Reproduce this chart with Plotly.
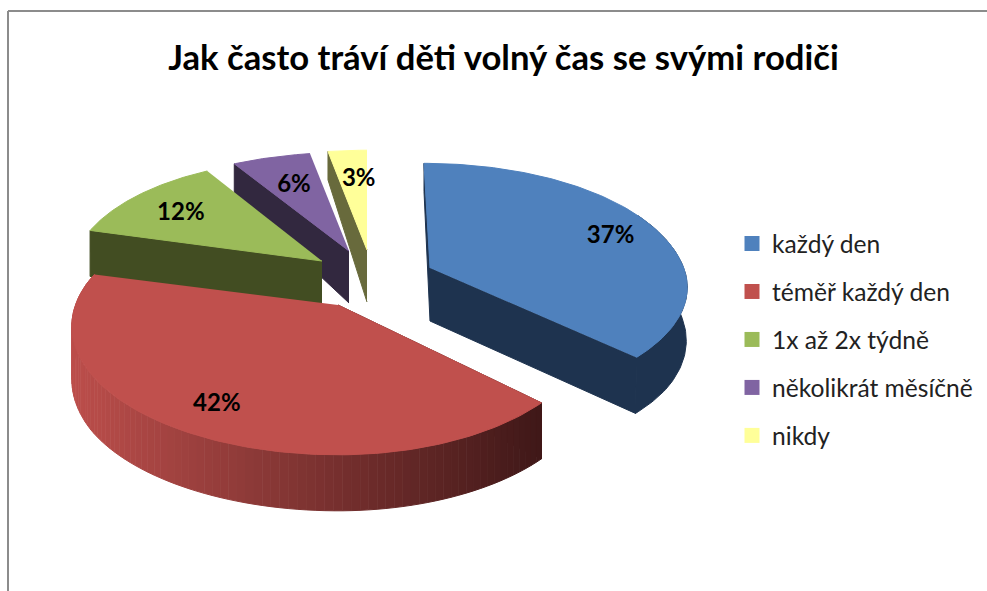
import numpy as np
import plotly.graph_objects as go

# --- data ---
categories = ["každý den", "téměř každý den", "1x až 2x týdně", "několikrát měsíčně", "nikdy"]
shares = [37, 42, 12, 6, 3]
title = "Jak často tráví děti volný čas se svými rodiči"

# --- style / projection ---
top_colors = ["#4F81BD", "#C0504D", "#9BBB59", "#8064A2", "#FFFF99"]
wall_colors = ["#1E334F", "#4A1E1C", "#424D22", "#32283F", "#686A3C"]
centers = [(430, 268), (338, 305), (322, 261), (349, 251), (367, 250)]
center_depth = [53, 55, 43, 52, 52]
label_frac = [0.85, 0.82, 0.77, 0.71, 0.68]
label_dx = [-2, -2, -1, 0, 5]
label_dy = [9, -6, 4, 1, -2]
left_rx = [1, 1.05, 1, 1, 1]
right_rx = [1.015, 1, 1, 1, 1]
front_ry = [0.9, 0.985, 1, 1, 1]
back_ry = [0.03, 0.05, 0.05, 0.086, 0.075]
back_shear = [6, 0, 0, 0, 0]
rim_dx = [-1, 0, 0, 0, 0]
RX, RY, K = 250.0, 130.0, 0.17
FONT = "Lato"


def project(i, theta):
    c = centers[i]
    u, v = np.sin(theta), -np.cos(theta)
    s = 1 + K * v
    x = c[0] + RX * u * s * np.where(u < 0, left_rx[i], right_rx[i]) + back_shear[i] * np.minimum(v, 0)
    y = c[1] + RY * v * s * np.where(v > 0, front_ry[i], 1 + back_ry[i] * v)
    return x, y, v


def depth(v):
    return np.where(v < 0, 52 + 24 * v, 52 + 4 * np.minimum(v / 0.5, 1))


def poly(fig, xs, ys, color):
    fig.add_trace(go.Scatter(x=list(xs), y=list(ys), mode="lines", fill="toself", fillcolor=color,
                             line=dict(color=color, width=1), hoverinfo="skip", showlegend=False))


fig = go.Figure()
edges = np.radians(np.cumsum([0] + shares) / sum(shares) * 360)

# paint from the back slices to the front ones
for i in [4, 3, 2, 0, 1]:
    c, a0, a1 = centers[i], edges[i], edges[i + 1]
    t = np.linspace(a0, a1, 120)
    x, y, v = project(i, t)
    d = depth(v)
    cb = c[1] + center_depth[i]

    # cut wall at the start of the slice
    poly(fig, [c[0], x[0], x[0], c[0]], [c[1], y[0], y[0] + d[0], cb], wall_colors[i])

    if i == 0:
        # cut wall at the end of the slice and the outer rim
        dx = rim_dx[i]
        poly(fig, [c[0], x[-1], x[-1] + dx, c[0]], [c[1], y[-1], y[-1] + d[-1], cb], wall_colors[i])
        mask = v > -0.45
        poly(fig, np.r_[x[mask], x[mask][::-1] + dx], np.r_[y[mask], (y + d)[mask][::-1]], wall_colors[i])
    elif i == 1:
        # outer rim, shaded from the left towards the right
        tt = np.linspace(a1, a0, 90)
        xx, yy, vv = project(i, tt)
        dd = depth(vv)
        f = np.clip((xx - xx.min()) / (xx.max() - xx.min()), 0, 1)
        for j in range(len(tt) - 1):
            col = "rgb(%d,%d,%d)" % (188 - 125 * f[j], 78 - 54 * f[j], 75 - 51 * f[j])
            poly(fig, [xx[j], xx[j + 1], xx[j + 1], xx[j]],
                 [yy[j], yy[j + 1], yy[j + 1] + dd[j + 1], yy[j] + dd[j]], col)

    poly(fig, np.r_[c[0], x], np.r_[c[1], y], top_colors[i])

# percentage labels
mids = (edges[:-1] + edges[1:]) / 2
for i, share in enumerate(shares):
    lx, ly, lv = project(i, mids[i])
    fig.add_trace(go.Scatter(
        x=[centers[i][0] + (lx - centers[i][0]) * label_frac[i] + label_dx[i]],
        y=[centers[i][1] + (ly - centers[i][1]) * label_frac[i] + label_dy[i]],
        mode="text", text=[f"{share}%"], textposition="middle center",
        textfont=dict(family=FONT, size=24, color="#000000", weight="bold"),
        hoverinfo="skip", showlegend=False))

# legend
for i, name in enumerate(categories):
    fig.add_trace(go.Scatter(x=[None], y=[None], mode="markers", name=name, legendgroup=name,
                             marker=dict(symbol="square", size=15, color=top_colors[i])))

fig.update_layout(
    width=987, height=591, margin=dict(l=0, r=0, t=0, b=0),
    paper_bgcolor="white", plot_bgcolor="white",
    title=dict(text=title, x=503.5 / 987, xanchor="center", y=1 - 58 / 591, yanchor="middle",
               font=dict(family=FONT, size=34.65, color="#000000", weight="bold")),
    xaxis=dict(range=[0, 987], visible=False, fixedrange=True),
    yaxis=dict(range=[591, 0], visible=False, fixedrange=True),
    legend=dict(x=732 / 987, y=1 - 221 / 591, xanchor="left", yanchor="top", tracegroupgap=13,
                font=dict(family=FONT, size=24.6, color="#222222"), itemwidth=30,
                bgcolor="rgba(0,0,0,0)"),
    shapes=[
        dict(type="line", xref="paper", yref="paper", x0=8 / 987, x1=1, y0=1 - 11 / 591, y1=1 - 11 / 591,
             line=dict(color="#8C8C8C", width=2)),
        dict(type="line", xref="paper", yref="paper", x0=8 / 987, x1=8 / 987, y0=1 - 11 / 591, y1=0,
             line=dict(color="#8C8C8C", width=2)),
    ],
)
fig.write_html("out.html", config={"displayModeBar": False},
               post_script="document.body.style.margin='0';")
